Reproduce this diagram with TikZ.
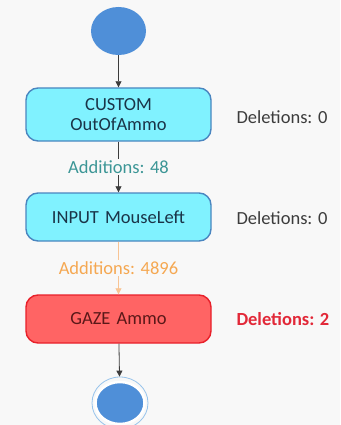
\documentclass[tikz,border=0pt]{standalone}
\usepackage{fontspec}
\setmainfont{Carlito}
\usetikzlibrary{arrows.meta, positioning, shapes.geometric}
\definecolor{bgcolor}{RGB}{248,248,248}
\definecolor{nodeblue}{RGB}{79,143,216}
\definecolor{ringblue}{RGB}{150,195,235}
\definecolor{cyanfill}{RGB}{128,242,255}
\definecolor{cyanframe}{RGB}{74,134,192}
\definecolor{cyantext}{RGB}{26,52,72}
\definecolor{redfill}{RGB}{255,100,100}
\definecolor{redframe}{RGB}{232,32,42}
\definecolor{redtext}{RGB}{90,24,24}
\definecolor{delgray}{RGB}{60,60,60}
\definecolor{delred}{RGB}{226,40,56}
\definecolor{addteal}{RGB}{60,150,150}
\definecolor{addorange}{RGB}{245,168,82}
\definecolor{lineorange}{RGB}{248,196,148}
\definecolor{linedark}{RGB}{60,60,60}
\tikzset{
  eventblock/.style={rectangle, draw=cyanframe, fill=cyanfill,
    text width=175pt, align=center, minimum width=185pt,
    font=\fontsize{18.5}{20}\selectfont, text=cyantext,
    rounded corners=12pt, line width=1.4pt},
  gazeblock/.style={eventblock, draw=redframe, fill=redfill, text=redtext},
  startnode/.style={ellipse, fill=nodeblue, minimum width=55pt,
    minimum height=48pt, inner sep=0pt},
  endnode/.style={ellipse, fill=nodeblue, draw=white, line width=2.5pt,
    minimum width=49pt, minimum height=42pt, inner sep=0pt},
  endring/.style={ellipse, draw=ringblue, line width=0.8pt,
    minimum width=56pt, minimum height=52pt, inner sep=0pt},
  dellabel/.style={font=\fontsize{18.5}{20}\selectfont, text=delgray, anchor=west},
  addlabel/.style={font=\fontsize{18.5}{20}\selectfont, fill=bgcolor,
    inner sep=1.5pt},
  flowarrow/.style={-{Triangle[length=6pt, width=6pt]}, line width=0.8pt,
    color=linedark},
  warnarrow/.style={-{Triangle[length=6pt, width=6pt]}, line width=0.8pt,
    color=lineorange}
}
\begin{document}
\begin{tikzpicture}[x=1pt, y=-1pt]
  % Background and page size
  \fill[bgcolor] (0,0) rectangle (340,425);
  \useasboundingbox (0,0) rectangle (340,425);

  % Start and end states
  \node[startnode] (start) at (118.5,31) {};
  \node[endnode] (end) at (120,403) {};
  \node[endring] (endouter) at (end) {};

  % Event blocks
  \node[eventblock, minimum height=53pt] (custom) at (118.5,114.5) {CUSTOM\\OutOfAmmo};
  \node[eventblock, minimum height=48pt] (input) at (118.5,217) {INPUT MouseLeft};
  \node[gazeblock, minimum height=48pt] (gaze) at (118.5,319) {GAZE Ammo};

  % Deletion counts
  \node[dellabel] (delcustom) at (233,117) {Deletions: 0};
  \node[dellabel] (delinput) at (233,218) {Deletions: 0};
  \node[dellabel, text=delred, font=\fontsize{18.5}{20}\selectfont\bfseries] (delgaze) at (233,319) {Deletions: 2};

  % Transitions
  \draw[flowarrow] (start) -- (custom);
  \draw[flowarrow] (custom) -- node[addlabel, text=addteal]{Additions: 48} (input);
  \draw[warnarrow] (input) -- node[addlabel, text=addorange]{Additions: 4896} (gaze);
  \draw[flowarrow] (gaze) -- (endouter);
\end{tikzpicture}
\end{document}
